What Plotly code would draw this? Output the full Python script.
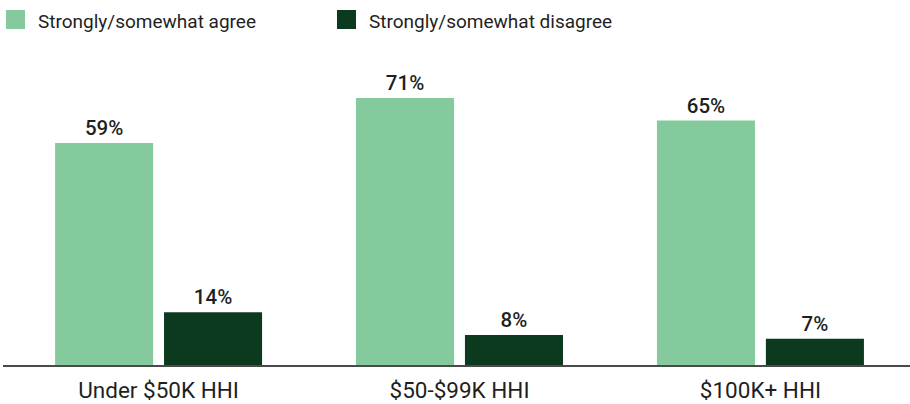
import plotly.graph_objects as go

# Survey responses by household income
categories = ["Under $50K HHI", "$50-$99K HHI", "$100K+ HHI"]
agree = [59, 71, 65]
disagree = [14, 8, 7]
series_names = ["Strongly/somewhat agree", "Strongly/somewhat disagree"]

LIGHT = "#85CA9C"
DARK = "#0C3A1F"
TEXT = "#1f1f1f"
colors = [LIGHT, DARK]

W, H = 910, 404
ML, MR, MT, MB = 3, 0, 60, 39
PW, PH = W - ML - MR, H - MT - MB


def px_x(p):
    """Pixel column -> paper x."""
    return (p - ML) / PW


def px_y(p):
    """Pixel row -> paper y."""
    return (H - MB - p) / PH


fig = go.Figure()
for name, vals, color in zip(series_names, [agree, disagree], colors):
    fig.add_trace(go.Bar(
        x=categories,
        y=vals,
        name=name,
        marker=dict(color=color, line=dict(width=0)),
        text=[f"{v}%" for v in vals],
        textposition="outside",
        textfont=dict(family="Roboto", size=20.5, color=TEXT, weight=500),
        cliponaxis=False,
        showlegend=False,
    ))

# Legend row: colour swatch followed by series name
shapes = []
annotations = []
for i, (name, color) in enumerate(zip(series_names, colors)):
    x0 = 6 + i * 331
    shapes.append(dict(
        type="rect", xref="paper", yref="paper",
        x0=px_x(x0), x1=px_x(x0 + 19), y0=px_y(29), y1=px_y(10),
        fillcolor=color, line=dict(width=0),
    ))
    annotations.append(dict(
        xref="paper", yref="paper",
        x=px_x(x0 + 30), y=px_y(21),
        xanchor="left", yanchor="middle",
        text=name, showarrow=False,
        font=dict(family="Roboto", size=19, color=TEXT),
    ))

fig.update_layout(
    width=W,
    height=H,
    margin=dict(l=ML, r=MR, t=MT, b=MB, autoexpand=False),
    paper_bgcolor="white",
    plot_bgcolor="white",
    barmode="group",
    bargap=0.276,
    bargroupgap=0.1,
    showlegend=False,
    shapes=shapes,
    annotations=annotations,
    xaxis=dict(
        range=[-0.517, 2.497],
        showline=True,
        linecolor="#4a4a4a",
        linewidth=2,
        ticks="",
        ticklabelstandoff=4,
        tickfont=dict(family="Roboto", size=22.5, color=TEXT),
        showgrid=False,
        zeroline=False,
        automargin=False,
    ),
    yaxis=dict(
        range=[0, 81.1],
        visible=False,
        showgrid=False,
        zeroline=False,
        automargin=False,
    ),
)

fig.write_html("out.html")
